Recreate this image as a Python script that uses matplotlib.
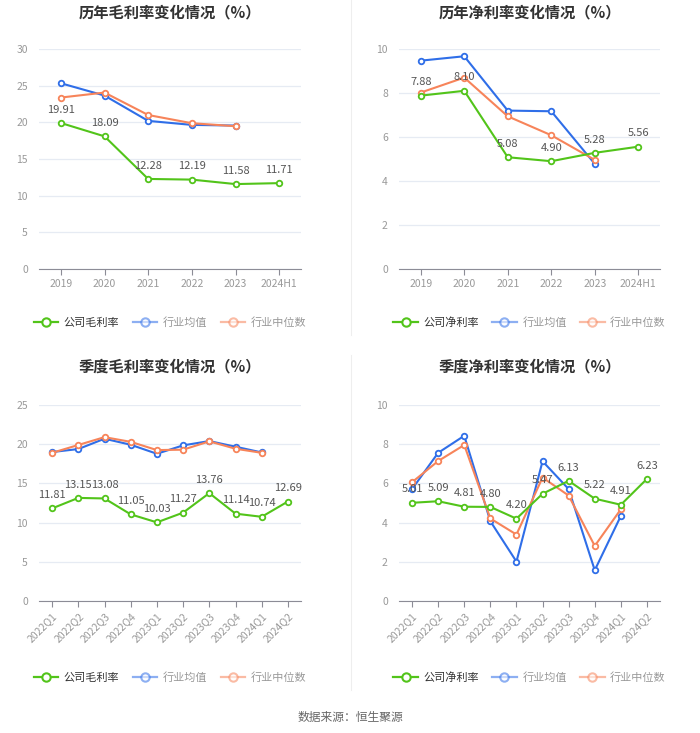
import matplotlib
matplotlib.use("Agg")
import matplotlib.pyplot as plt
from matplotlib.lines import Line2D

plt.rcParams["font.family"] = ["Noto Sans CJK SC", "DejaVu Sans"]

years = ["2019", "2020", "2021", "2022", "2023", "2024H1"]
quarters = ["2022Q1", "2022Q2", "2022Q3", "2022Q4", "2023Q1",
            "2023Q2", "2023Q3", "2023Q4", "2024Q1", "2024Q2"]

gross_year = [19.91, 18.09, 12.28, 12.19, 11.58, 11.71]
gross_year_mean = [25.33, 23.65, 20.2, 19.65, 19.56]
gross_year_median = [23.38, 24.06, 21.0, 19.88, 19.47]

net_year = [7.88, 8.10, 5.08, 4.90, 5.28, 5.56]
net_year_mean = [9.47, 9.67, 7.2, 7.17, 4.78]
net_year_median = [8.02, 8.7, 6.94, 6.08, 4.96]

gross_q = [11.81, 13.15, 13.08, 11.05, 10.03, 11.27, 13.76, 11.14, 10.74, 12.69]
gross_q_mean = [19.0, 19.38, 20.7, 19.93, 18.78, 19.85, 20.4, 19.68, 18.95]
gross_q_median = [18.9, 19.9, 20.9, 20.3, 19.25, 19.3, 20.36, 19.42, 18.9]

net_q = [5.01, 5.09, 4.81, 4.80, 4.20, 5.47, 6.13, 5.22, 4.91, 6.23]
net_q_mean = [5.71, 7.56, 8.43, 4.07, 2.01, 7.13, 5.71, 1.57, 4.34]
net_q_median = [6.06, 7.14, 7.96, 4.21, 3.39, 6.3, 5.38, 2.81, 4.68]

GREEN = "#52c41a"
BLUE = "#2f6ee8"
ORANGE = "#f7845a"
W, H = 700, 733


def px_axes(fig, x0, y0, x1, y1):
    return fig.add_axes([x0 / W, 1 - y1 / H, (x1 - x0) / W, (y1 - y0) / H])


def panel(fig, box, title, title_y, cats, comp, mean, median, ymax, ystep,
          comp_name, rotate, legend_y):
    ax = px_axes(fig, *box)
    n = len(cats)
    xs = list(range(n))
    style = dict(lw=1.5, marker="o", ms=4, mfc="white", mew=1.3)
    ax.plot(xs[:len(mean)], mean, color=BLUE, zorder=3, **style)
    ax.plot(xs[:len(median)], median, color=ORANGE, zorder=3, **style)
    ax.plot(xs, comp, color=GREEN, zorder=4, **style)
    for x, v in zip(xs, comp):
        ax.annotate(f"{v:.2f}", (x, v), xytext=(0, 6), textcoords="offset points",
                    ha="center", va="bottom", fontsize=8, color="#555555", zorder=5)
    ax.set_xlim(-0.5, n - 0.5)
    ax.set_ylim(0, ymax)
    ax.set_yticks([i * ystep for i in range(int(round(ymax / ystep)) + 1)])
    ax.grid(axis="y", color="#e6ebf3", lw=0.9)
    ax.set_axisbelow(True)
    for s in ("top", "right", "left"):
        ax.spines[s].set_visible(False)
    ax.spines["bottom"].set_color("#8c8c96")
    ax.tick_params(axis="y", length=0, labelsize=7.5, labelcolor="#999999", pad=8)
    ax.tick_params(axis="x", length=4, color="#8c8c96", labelsize=7.5,
                   labelcolor="#999999", pad=3)
    ax.set_xticks(xs)
    if rotate:
        ax.set_xticklabels(cats, rotation=45, ha="right", rotation_mode="anchor")
    else:
        ax.set_xticklabels(cats)
    cx = (box[0] + box[2]) / 2
    fig.text(cx / W, 1 - title_y / H, title, ha="center", va="center", fontsize=11,
             fontweight="bold", color="#333333")
    handles = [
        Line2D([], [], color=GREEN, lw=1.6, marker="o", ms=6, mfc="white", mew=1.5),
        Line2D([], [], color=BLUE, lw=1.6, marker="o", ms=6, mfc="white", mew=1.5, alpha=0.55),
        Line2D([], [], color=ORANGE, lw=1.6, marker="o", ms=6, mfc="white", mew=1.5, alpha=0.55),
    ]
    leg = fig.legend(handles, [comp_name, "行业均值", "行业中位数"], loc="center",
                     bbox_to_anchor=(cx / W, 1 - legend_y / H), ncol=3, frameon=False,
                     fontsize=8, handlelength=2.2, columnspacing=1.2, handletextpad=0.5)
    for i, t in enumerate(leg.get_texts()):
        t.set_color("#333333" if i == 0 else "#999999")
    return ax


fig = plt.figure(figsize=(7, 7.33), dpi=100)

panel(fig, (39, 49, 301, 269), "历年毛利率变化情况（%）", 12, years, gross_year,
      gross_year_mean, gross_year_median, 30, 5, "公司毛利率", False, 323)
panel(fig, (399, 49, 660, 269), "历年净利率变化情况（%）", 12, years, net_year,
      net_year_mean, net_year_median, 10, 2, "公司净利率", False, 323)
panel(fig, (39, 405, 301, 601), "季度毛利率变化情况（%）", 366, quarters, gross_q,
      gross_q_mean, gross_q_median, 25, 5, "公司毛利率", True, 678)
panel(fig, (399, 405, 660, 601), "季度净利率变化情况（%）", 366, quarters, net_q,
      net_q_mean, net_q_median, 10, 2, "公司净利率", True, 678)

# faint divider between the left and right columns
fig.add_artist(Line2D([351 / W, 351 / W], [1 - 0 / H, 1 - 335 / H], color="#eeeeee", lw=0.8))
fig.add_artist(Line2D([351 / W, 351 / W], [1 - 355 / H, 1 - 690 / H], color="#eeeeee", lw=0.8))

fig.text(0.5, 1 - 717 / H, "数据来源：恒生聚源", ha="center", va="center",
         fontsize=8.5, color="#666666")

fig.savefig("out.png", dpi=100, facecolor="white")
